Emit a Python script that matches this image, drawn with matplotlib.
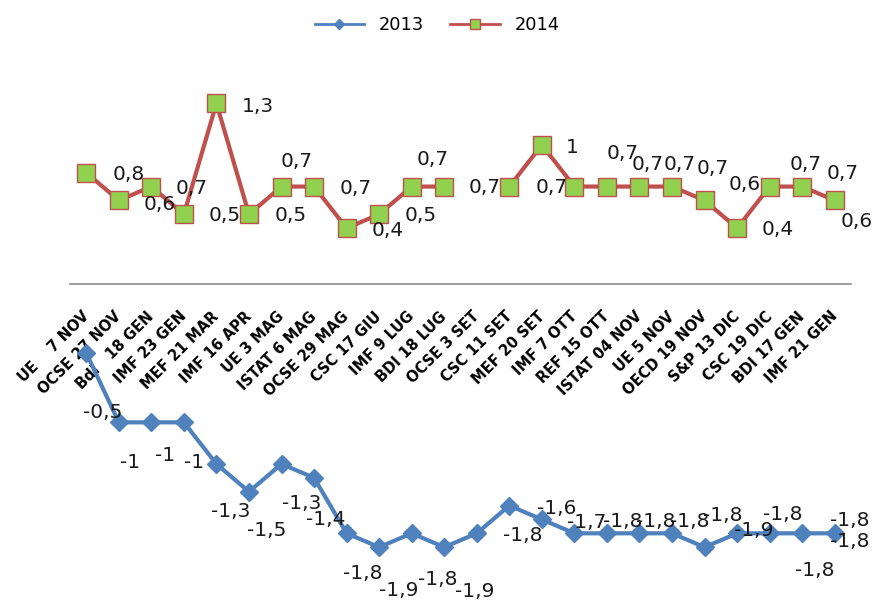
import numpy as np
import matplotlib
matplotlib.use("Agg")
import matplotlib.pyplot as plt
from matplotlib.transforms import ScaledTranslation

# --- dati ---
categorie = ["UE    7 NOV", "OCSE 27 NOV", "BdI   18 GEN", "IMF 23 GEN", "MEF 21 MAR",
             "IMF 16 APR", "UE 3 MAG", "ISTAT 6 MAG", "OCSE 29 MAG", "CSC 17 GIU",
             "IMF 9 LUG", "BDI 18 LUG", "OCSE 3 SET", "CSC 11 SET", "MEF 20 SET",
             "IMF 7 OTT", "REF 15 OTT", "ISTAT 04 NOV", "UE 5 NOV", "OECD 19 NOV",
             "S&P 13 DIC", "CSC 19 DIC", "BDI 17 GEN", "IMF 21 GEN"]
v2013 = [-0.5, -1, -1, -1, -1.3, -1.5, -1.3, -1.4, -1.8, -1.9, -1.8, -1.9,
         -1.8, -1.6, -1.7, -1.8, -1.8, -1.8, -1.8, -1.9, -1.8, -1.8, -1.8, -1.8]
v2014 = [0.8, 0.6, 0.7, 0.5, 1.3, 0.5, 0.7, 0.7, 0.4, 0.5, 0.7, 0.7,
         np.nan, 0.7, 1.0, 0.7, 0.7, 0.7, 0.7, 0.6, 0.4, 0.7, 0.7, 0.6]

# spostamenti delle etichette (pixel, x a destra, y verso il basso)
off2013 = [(16, 59), (11, 40), (14, 33), (10, 40), (14, 48), (18, 39), (20, 40), (12, 42),
           (16, 40), (20, 43), (26, 46), (30, 44), (46, 2), (47, 3), (45, 3), (48, -12),
           (49, -12), (50, -12), (51, -18), (49, -17), (46, -19), (45, 37), (48, -13), (15, 8)]
off2014 = [(42, 2), (41, 4), (40, 2), (41, 1), (41, 3), (42, 1), (15, -25), (42, 2),
           (41, 2), (42, 1), (21, -27), (40, 1), None, (42, 1), (30, 3), (48, -33),
           (41, -22), (40, -22), (41, -18), (40, -16), (41, 1), (36, -22), (41, -13), (22, 21)]


def etichetta(v):
    return f"{v:g}".replace(".", ",")


x = np.arange(len(categorie))

fig = plt.figure(figsize=(8.74, 6.01), dpi=100)
ax = fig.add_axes([70 / 874, 0.0203, 781 / 874, 0.877])

ax.plot(x, v2013, color="#4F81BD", lw=3, marker="D", ms=9,
        mfc="#4F81BD", mec="#4F81BD", label="2013", zorder=3)
ax.plot(x, v2014, color="#C0504D", lw=3, marker="s", ms=13,
        mfc="#92D050", mec="#C0504D", mew=1, label="2014", zorder=3)

for xi, v, o in zip(x, v2013, off2013):
    ax.annotate(etichetta(v), (xi, v), xytext=(o[0], -o[1]), textcoords="offset pixels",
                ha="center", va="center", fontsize=14.5, color="#1a1a1a")
for xi, v, o in zip(x, v2014, off2014):
    if o is None or np.isnan(v):
        continue
    ax.annotate(etichetta(v), (xi, v), xytext=(o[0], -o[1]), textcoords="offset pixels",
                ha="center", va="center", fontsize=14.5, color="#1a1a1a")

ax.set_xlim(-0.5, len(categorie) - 0.5)
ax.set_ylim(-2.2, 1.6)
for s in ["top", "left", "right"]:
    ax.spines[s].set_visible(False)
ax.spines["bottom"].set_position(("data", 0))
ax.spines["bottom"].set_color("#8c8c8c")
ax.spines["bottom"].set_linewidth(1.2)
ax.set_yticks([])
ax.set_xticks(x)
ax.set_xticklabels(categorie, rotation=45, ha="right", rotation_mode="anchor",
                   fontsize=10.5, fontweight="bold")
ax.tick_params(axis="x", length=0, pad=18)
# le etichette finiscono proprio sotto la categoria
sposta = ScaledTranslation(-5 / 100, 0, fig.dpi_scale_trans)
for lab in ax.get_xticklabels():
    lab.set_transform(lab.get_transform() + sposta)

leg = fig.legend(loc="upper center", bbox_to_anchor=(0.5, 1.0), ncol=2, frameon=False,
                 fontsize=12.8, markerscale=0.6, handlelength=2.8, columnspacing=1.5)
for l in leg.get_lines():
    l.set_linewidth(2)

fig.savefig("out.png", dpi=100)
